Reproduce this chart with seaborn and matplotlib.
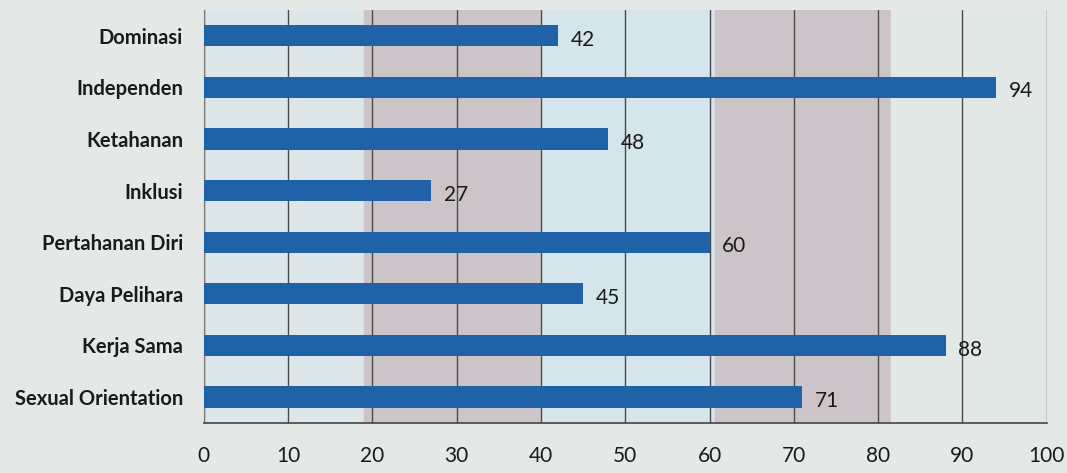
import pandas as pd
import numpy as np
import matplotlib
matplotlib.use('Agg')
import matplotlib.pyplot as plt
import seaborn as sns

# data
categories = ['Dominasi', 'Independen', 'Ketahanan', 'Inklusi',
              'Pertahanan Diri', 'Daya Pelihara', 'Kerja Sama', 'Sexual Orientation']
scores = [42, 94, 48, 27, 60, 45, 88, 71]
x_ticks = [0, 10, 20, 30, 40, 50, 60, 70, 80, 90, 100]

df = pd.DataFrame({'Kategori': categories, 'Skor': scores})

sns.set_style('white')
plt.rcParams['font.family'] = ['Lato', 'DejaVu Sans']

fig = plt.figure(figsize=(10.67, 4.73), dpi=100)
fig.patch.set_facecolor('#e4e8e6')
ax = fig.add_axes([0.191, 0.106, 0.790, 0.873])
ax.set_facecolor('#dde6e8')

# shaded bands behind the bars
ax.axvspan(19, 40, color='#cdc4ca', zorder=0)
ax.axvspan(40, 60.7, color='#d4e5eb', zorder=0)
ax.axvspan(60.7, 81.5, color='#cdc4ca', zorder=0)
ax.axvspan(81.5, 100, color='#e2e8e6', zorder=0)

sns.barplot(data=df, x='Skor', y='Kategori', orient='h', color='#1f62a7',
            saturation=1, width=0.41, linewidth=0, ax=ax, zorder=3)

# value labels
for i, v in enumerate(scores):
    ax.text(v + 1.5, i + 0.08, str(v), va='center', ha='left',
            fontsize=15, color='#1a1a1a', zorder=4)

ax.set_xlim(0, 100)
ax.set_ylim(7.5, -0.5)
ax.set_xticks(x_ticks)
ax.set_xticklabels([str(t) for t in x_ticks], fontsize=15, color='#1a1a1a')
ax.set_yticks(range(len(categories)))
ax.set_yticklabels(categories, fontsize=14.5, fontweight='bold', color='#1a1a1a')
ax.set_yticks(np.arange(-0.5, 8, 1), minor=True)
ax.tick_params(axis='y', which='major', length=0, pad=15)
ax.tick_params(axis='y', which='minor', length=4, color='#555555')
ax.tick_params(axis='x', length=6, color='#555555', pad=11)
ax.set_xlabel('')
ax.set_ylabel('')

ax.grid(axis='x', color='#4a4a4a', linewidth=1, zorder=1)
ax.set_axisbelow(True)
for s in ['top', 'right']:
    ax.spines[s].set_visible(False)
ax.spines['left'].set_color('#777777')
ax.spines['bottom'].set_color('#444444')
ax.spines['bottom'].set_linewidth(1.2)

fig.savefig('out.png', dpi=100, facecolor=fig.get_facecolor())
